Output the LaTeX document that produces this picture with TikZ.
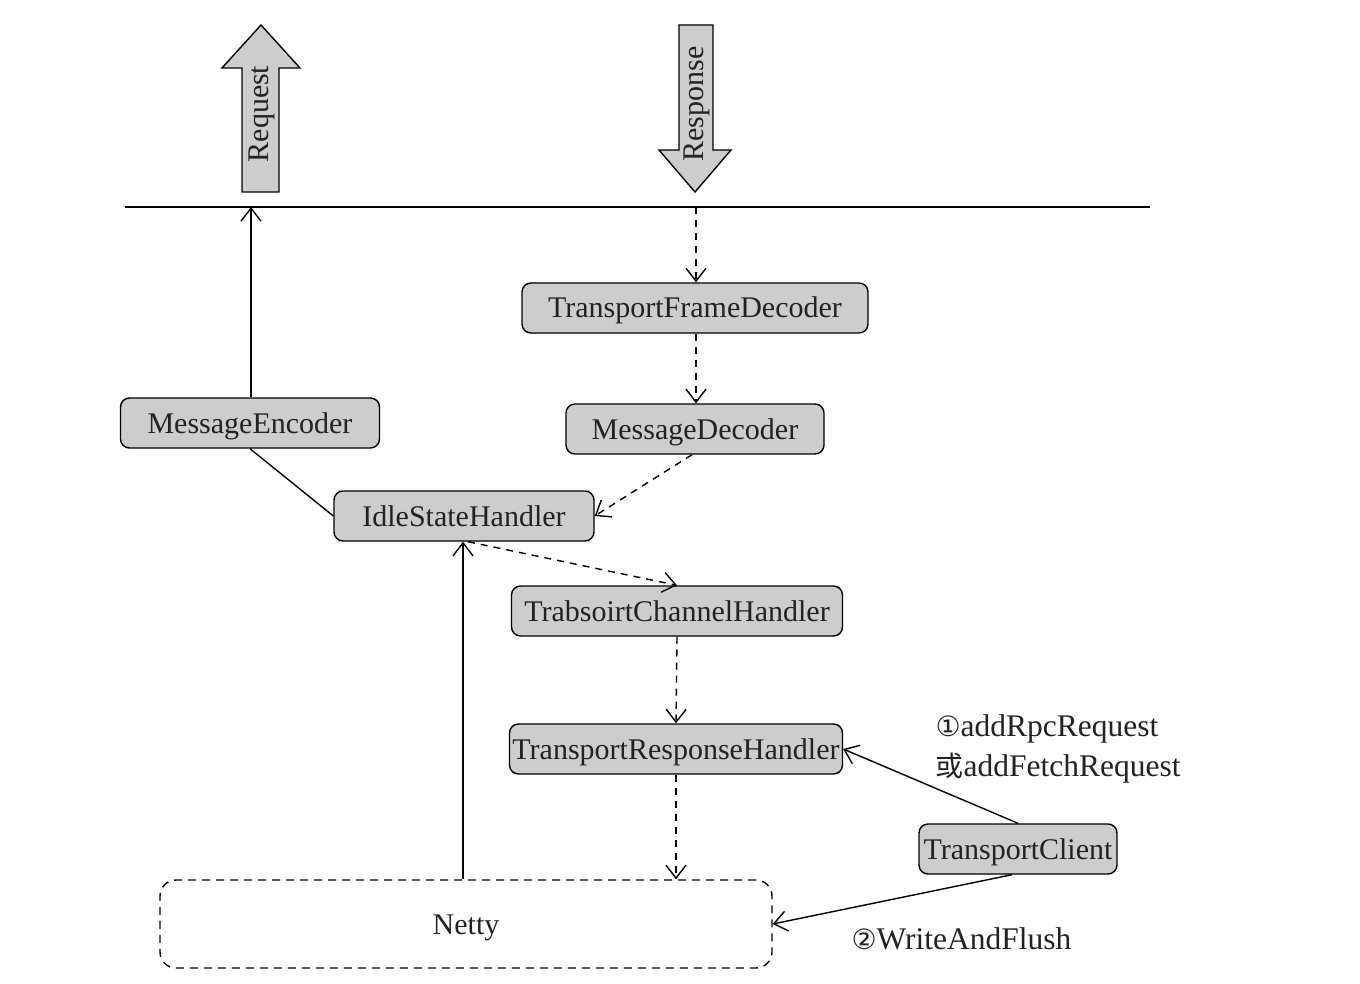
\documentclass[tikz,border=0pt]{standalone}
\usepackage{fontspec}
\setmainfont{Liberation Serif}
\newfontfamily\cjkfont{Noto Sans CJK SC}
\newfontfamily\symfont{DejaVu Sans}
\usetikzlibrary{arrows.meta}
\definecolor{boxgray}{HTML}{CDCDCD}
\definecolor{inkgray}{HTML}{222222}
\tikzset{
  txt/.style={font=\fontsize{30}{36}\selectfont, text=inkgray},
  lbl/.style={font=\fontsize{31.5}{38}\selectfont, text=inkgray, anchor=west},
  box/.style={txt, draw=black, line width=1.4pt, fill=boxgray,
    rounded corners=9pt, minimum height=50pt, inner sep=0pt,
    text height=23pt, text depth=3pt},
  cloud/.style={txt, draw=black, line width=1.4pt, dash pattern=on 8pt off 6pt,
    rounded corners=16pt, minimum width=612pt, minimum height=88pt, inner sep=0pt,
    text height=23pt, text depth=3pt},
  tip/.style={-{Straight Barb[length=13pt,width=20pt,line width=1.4pt]}},
  link/.style={tip, line width=1.4pt, draw=black},
  plain/.style={line width=1.4pt, draw=black},
  dlink/.style={link, dash pattern=on 7pt off 6pt},
  bigarrow/.style={draw=black, line width=1.4pt, fill=boxgray},
}
\begin{document}
\begin{tikzpicture}[x=1pt,y=-1pt]
\useasboundingbox (0,0) rectangle (1360,984);

% request / response block arrows
\draw[bigarrow] (242,192) -- (242,68) -- (222,68) -- (261,25) -- (300,68)
  -- (279,68) -- (279,192) -- cycle;
\node[txt, rotate=90] (reqtext) at (262,114) {Request};
\draw[bigarrow] (679,25) -- (713,25) -- (713,150) -- (731,150) -- (695,192)
  -- (659,150) -- (679,150) -- cycle;
\node[txt, rotate=90] (resptext) at (697,104) {Response};

% boundary line
\coordinate (ruleL) at (125,207);
\coordinate (ruleR) at (1150,207);
\draw[line width=1.4pt] (ruleL) -- (ruleR);

% handlers
\node[box, minimum width=346pt] (tfd)  at (695,308) {TransportFrameDecoder};
\node[box, minimum width=259pt] (enc)  at (250,423) {MessageEncoder};
\node[box, minimum width=258pt] (dec)  at (695,429) {MessageDecoder};
\node[box, minimum width=260pt] (idle) at (464,516) {IdleStateHandler};
\node[box, minimum width=331pt] (tch)  at (677,611) {TrabsoirtChannelHandler};
\node[box, minimum width=333pt] (trh)  at (676,749) {TransportResponseHandler};
\node[box, minimum width=198pt] (client) at (1018,849) {TransportClient};
\node[cloud] (netty) at (466,924) {Netty};

% labels
\node[lbl] (lab1) at (932,729) {{\symfont\fontsize{28}{30}\selectfont ①}addRpcRequest};
\node[lbl] (lab2) at (932,768) {{\cjkfont\fontsize{28}{30}\selectfont 或}addFetchRequest};
\node[lbl] (lab3) at (848,939) {{\symfont\fontsize{28}{30}\selectfont ②}WriteAndFlush};

% connectors
\coordinate (reqfoot) at (251,207);
\coordinate (respfoot) at (696,207);
\draw[link] (enc.north -| reqfoot) -- (reqfoot);
\draw[plain] (enc.south) -- (idle.west);
\draw[dlink] (respfoot) -- (tfd.north -| respfoot);
\draw[dlink] (tfd.south -| respfoot) -- (dec.north -| respfoot);
\draw[dlink] ([xshift=-3pt]dec.south) -- (idle.east);
\draw[dlink] ([xshift=4pt]idle.south) -- (tch.north);
\draw[dlink] (tch.south) -- (trh.north);
\draw[dlink] (trh.south) -- (trh.south |- netty.north);
\draw[link] ([xshift=-1pt]idle.south |- netty.north) -- ([xshift=-1pt]idle.south);
\draw[link] (client.north) -- (trh.east);
\draw[link] ([xshift=-6pt]client.south) -- (netty.east);
\end{tikzpicture}
\end{document}
